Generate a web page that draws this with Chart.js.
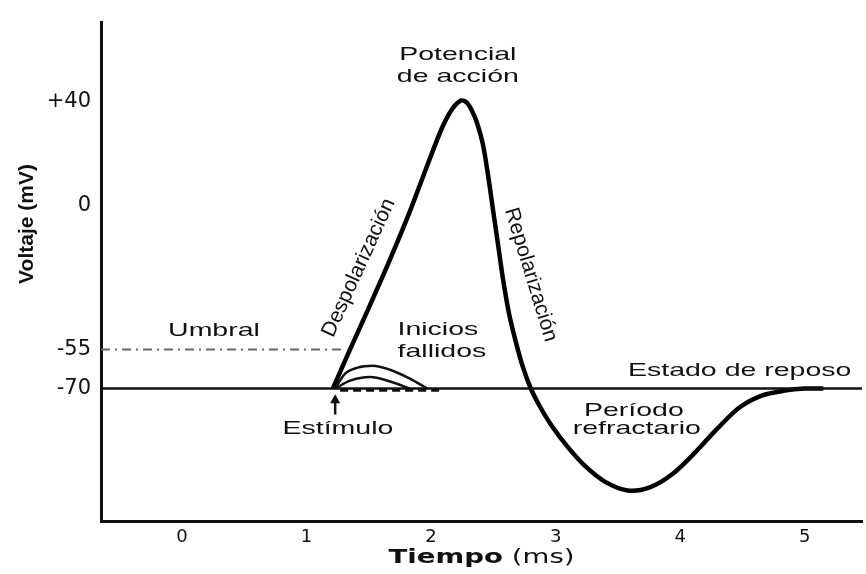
<!DOCTYPE html>
<html>
<head>
<meta charset="utf-8">
<title>Potencial de acción</title>
<script src="https://cdn.jsdelivr.net/npm/chart.js@4.4.1/dist/chart.umd.min.js"></script>
<style>
  html, body { margin: 0; padding: 0; background: #fff; }
</style>
</head>
<body>
<canvas id="ap-chart" width="866" height="574"></canvas>
<script>
// ---- data: time in ms, voltage in mV ----
const restTime = [-0.65, 5.46];
const restVolt = [-70, -70];

const spikeTime = [1.212, 1.348, 1.509, 1.669, 1.830, 1.974, 2.087, 2.167, 2.239, 2.287, 2.327, 2.368, 2.416, 2.456, 2.496, 2.536, 2.576, 2.624, 2.681, 2.737, 2.801, 2.873, 2.970, 3.090, 3.234, 3.395, 3.579, 3.756, 3.933, 4.117, 4.302, 4.478, 4.655, 4.839, 4.998, 5.15];
const spikeVolt = [-70, -55.2, -38.1, -20.7, -2.1, 16.1, 29.8, 37, 40.4, 39.6, 36.6, 32, 23.7, 12.3, -1, -14.2, -27.5, -40.8, -52.2, -61.7, -70, -76.8, -84.4, -92, -99.6, -105.7, -109.1, -107.9, -103, -94.7, -85.2, -77.2, -72.7, -70.8, -70, -70];

const failTimeA = [1.23, 1.31, 1.41, 1.53, 1.67, 1.83, 1.97];
const failVoltA = [-70, -64.3, -62, -61.3, -62.8, -66.2, -70];
const failTimeB = [1.23, 1.35, 1.51, 1.67, 1.83];
const failVoltB = [-70, -67, -65.6, -67.3, -70];
const failTimeC = [1.27, 2.1];
const failVoltC = [-70.6, -70.6];

const thresholdTime = [-0.65, 1.31];
const thresholdVolt = [-55, -55];

const xTicks = [0, 1, 2, 3, 4, 5];
const yTicks = [40, 0, -55, -70];
const yTickText = ['+40', '0', '-55', '-70'];

const stimulusTime = 1.23;

// ---- labels drawn inside the plot (anchor in data units) ----
const notes = [
  { text: 'Potencial', x: 2.215, y: 57.8 },
  { text: 'de acción', x: 2.215, y: 49.5 },
  { text: 'Umbral', x: 0.257, y: -48.0 },
  { text: 'Inicios', x: 2.055, y: -47.6 },
  { text: 'fallidos', x: 2.087, y: -56.0 },
  { text: 'Estado de reposo', x: 4.478, y: -63.2 },
  { text: 'Período', x: 3.628, y: -78.7 },
  { text: 'refractario', x: 3.652, y: -85.6 },
  { text: 'Estímulo', x: 1.252, y: -85.6 }
];
// rotated labels along the two flanks of the spike
const flankNotes = [
  { text: 'Despolarización', x: 1.42, y: -23.7, angle: -65.5 },
  { text: 'Repolarización', x: 2.80, y: -26.4, angle: 73 }
];

const FONT = '"Liberation Sans", Arial, sans-serif';
const STRETCH = 1.5;

function pts(xs, ys) {
  return xs.map((x, i) => ({ x: x, y: ys[i] }));
}

function drawText(ctx, txt, cx, cy, font, sx, angleDeg) {
  ctx.save();
  ctx.translate(cx, cy);
  if (angleDeg) ctx.rotate(angleDeg * Math.PI / 180);
  ctx.scale(sx, 1);
  ctx.font = font;
  ctx.textAlign = 'center';
  ctx.textBaseline = 'middle';
  ctx.fillStyle = '#111';
  ctx.fillText(txt, 0, 0);
  ctx.restore();
}

const notesPlugin = {
  id: 'notes',
  afterDatasetsDraw(chart) {
    const ctx = chart.ctx;
    const xs = chart.scales.x, ys = chart.scales.y;

    notes.forEach(n => {
      drawText(ctx, n.text, xs.getPixelForValue(n.x), ys.getPixelForValue(n.y),
        '19px ' + FONT, STRETCH, 0);
    });
    flankNotes.forEach(n => {
      drawText(ctx, n.text, xs.getPixelForValue(n.x), ys.getPixelForValue(n.y),
        '21px ' + FONT, 1, n.angle);
    });

    // stimulus arrow
    const ax = xs.getPixelForValue(stimulusTime);
    const tip = ys.getPixelForValue(-72.2);
    const tail = ys.getPixelForValue(-80);
    ctx.save();
    ctx.strokeStyle = '#111';
    ctx.fillStyle = '#111';
    ctx.lineWidth = 2.5;
    ctx.beginPath();
    ctx.moveTo(ax, tail);
    ctx.lineTo(ax, tip + 6);
    ctx.stroke();
    ctx.beginPath();
    ctx.moveTo(ax, tip);
    ctx.lineTo(ax - 5, tip + 9);
    ctx.lineTo(ax + 5, tip + 9);
    ctx.closePath();
    ctx.fill();
    ctx.restore();

    // axis titles
    ctx.save();
    ctx.translate(27, 224);
    ctx.rotate(-Math.PI / 2);
    ctx.font = 'bold 21px "Liberation Sans Narrow", "Liberation Sans", Arial, sans-serif';
    ctx.textAlign = 'center';
    ctx.textBaseline = 'middle';
    ctx.fillStyle = '#111';
    ctx.fillText('Voltaje (mV)', 0, 0);
    ctx.restore();

    const area = chart.chartArea;
    const cx = (area.left + area.right) / 2;
    const boldF = 'bold 20px "DejaVu Sans", sans-serif';
    const normF = '20px "DejaVu Sans", sans-serif';
    ctx.save();
    ctx.font = boldF;
    const w1 = ctx.measureText('Tiempo').width;
    ctx.font = normF;
    const w2 = ctx.measureText(' (ms)').width;
    const sx = 1.38;
    ctx.translate(cx - (w1 + w2) * sx / 2, 558);
    ctx.scale(sx, 1);
    ctx.textBaseline = 'middle';
    ctx.textAlign = 'left';
    ctx.fillStyle = '#111';
    ctx.font = boldF;
    ctx.fillText('Tiempo', 0, 0);
    ctx.font = normF;
    ctx.fillText(' (ms)', w1, 0);
    ctx.restore();
  }
};

const config = {
  type: 'line',
  data: {
    datasets: [
      {
        label: 'Reposo',
        data: pts(restTime, restVolt),
        borderColor: '#111',
        borderWidth: 2.5,
        pointRadius: 0
      },
      {
        label: 'Umbral',
        data: pts(thresholdTime, thresholdVolt),
        borderColor: '#666',
        borderWidth: 2,
        borderDash: [9, 5, 2, 5],
        pointRadius: 0
      },
      {
        label: 'Inicio fallido 1',
        data: pts(failTimeA, failVoltA),
        borderColor: '#111',
        borderWidth: 2.5,
        cubicInterpolationMode: 'monotone',
        pointRadius: 0
      },
      {
        label: 'Inicio fallido 2',
        data: pts(failTimeB, failVoltB),
        borderColor: '#111',
        borderWidth: 2.5,
        cubicInterpolationMode: 'monotone',
        pointRadius: 0
      },
      {
        label: 'Inicio fallido 3',
        data: pts(failTimeC, failVoltC),
        borderColor: '#111',
        borderWidth: 3.5,
        borderDash: [8, 5],
        pointRadius: 0
      },
      {
        label: 'Potencial de acción',
        data: pts(spikeTime, spikeVolt),
        borderColor: '#000',
        borderWidth: 4.5,
        tension: 0.3,
        pointRadius: 0
      }
    ]
  },
  options: {
    responsive: false,
    devicePixelRatio: 1,
    animation: false,
    layout: { padding: { top: 17, right: 4, left: 0, bottom: 0 } },
    plugins: {
      legend: { display: false },
      tooltip: { enabled: false }
    },
    scales: {
      x: {
        type: 'linear',
        min: -0.65,
        max: 5.46,
        afterFit: s => { s.height = 53; },
        afterBuildTicks: s => { s.ticks = xTicks.map(v => ({ value: v })); },
        grid: { display: false, drawTicks: false },
        border: { display: true, color: '#111', width: 3 },
        ticks: {
          padding: 6,
          color: '#111',
          font: { family: '"DejaVu Sans", sans-serif', size: 18 }
        }
      },
      y: {
        type: 'linear',
        min: -120.8,
        max: 70.3,
        afterFit: s => { s.width = 101; },
        afterBuildTicks: s => { s.ticks = yTicks.map(v => ({ value: v })); },
        grid: { display: false, drawTicks: false },
        border: { display: true, color: '#111', width: 3 },
        ticks: {
          padding: 10,
          color: '#111',
          font: { family: '"DejaVu Sans", sans-serif', size: 21 },
          callback: v => yTickText[yTicks.indexOf(v)]
        }
      }
    }
  },
  plugins: [notesPlugin]
};

const apChart = new Chart(document.getElementById('ap-chart'), config);
</script>
</body>
</html>
